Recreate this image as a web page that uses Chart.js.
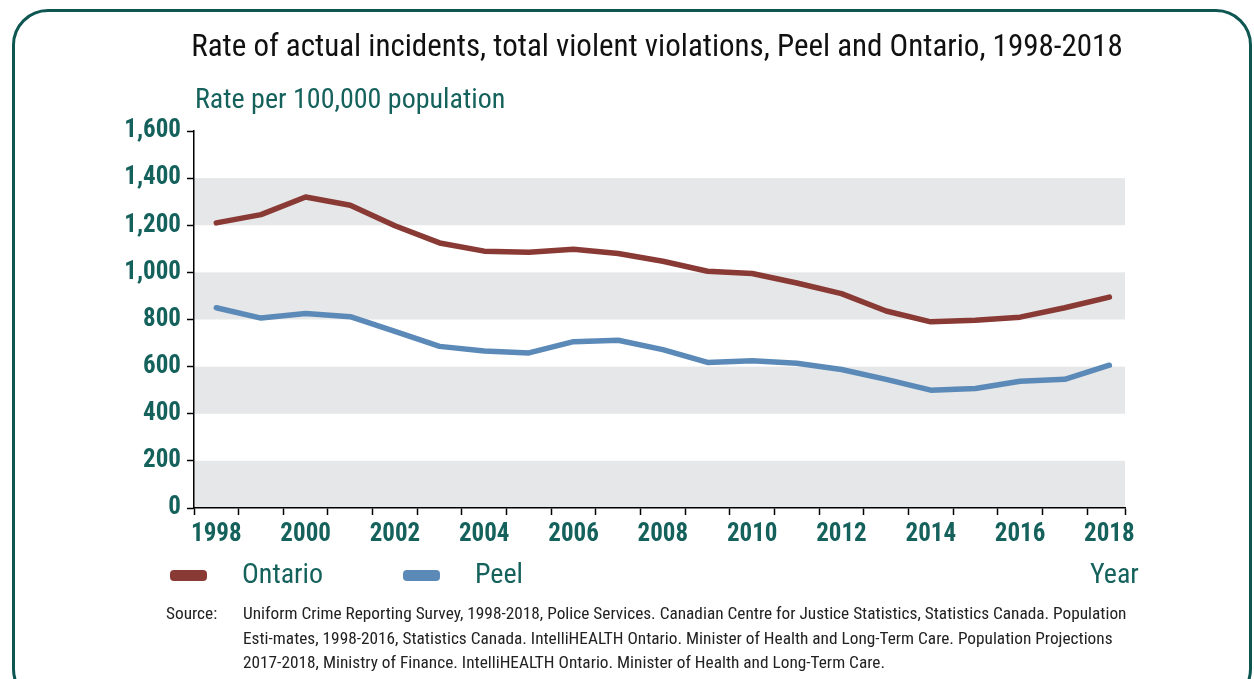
<!DOCTYPE html>
<html lang="en">
<head>
  <meta charset="UTF-8"/>
  <title>Violent violations • Peel and Ontario</title>
  <style>
    body { margin: 0; background: #fff; }
    #wrap { position: relative; width: 1254px; height: 679px; overflow: hidden;
      font-family: 'Roboto Condensed', 'Liberation Sans Narrow', 'DejaVu Sans Condensed', Roboto, sans-serif; }
    #frame { position: absolute; left: 12px; top: 9px; width: 1234px; height: 690px;
      border: 3px solid #0e5652; border-radius: 36px; }
    #chartBox { position: absolute; left: 0; top: 0; width: 1254px; height: 679px; }
    .txt { position: absolute; white-space: nowrap; line-height: 1; }
    #title { left: 0; width: 1314px; text-align: center; top: 30px; font-size: 31px; color: #111; }
    #sub { left: 195px; top: 85px; font-size: 28px; color: #15615c; }
    .sw { position: absolute; width: 37px; height: 11px; border-radius: 4px; top: 570px; }
    .leg { top: 560px; font-size: 28px; color: #15615c; }
    #src { position: absolute; left: 166px; top: 601px; font-size: 17.3px; line-height: 24.5px; color: #222; white-space: nowrap; }
    #src span { position: absolute; left: 0; top: 0; }
    #src div { position: absolute; left: 77px; top: 0; }
  </style>
</head>
<body>
  <div id="wrap">
    <div id="frame"></div>
    <div id="chartBox"><canvas id="rateChart"></canvas></div>
    <div class="txt" id="title">Rate of actual incidents, total violent violations, Peel and Ontario, 1998-2018</div>
    <div class="txt" id="sub">Rate per 100,000 population</div>
    <div class="sw" style="left:170px;background:#8a3a34"></div>
    <div class="txt leg" style="left:242px">Ontario</div>
    <div class="sw" style="left:403px;background:#5b8ab8"></div>
    <div class="txt leg" style="left:475px">Peel</div>
    <div class="txt leg" style="left:1090px">Year</div>
    <div id="src">
      <span>Source:</span>
      <div>Uniform Crime Reporting Survey, 1998-2018, Police Services. Canadian Centre for Justice Statistics, Statistics Canada. Population<br>Esti-mates, 1998-2016, Statistics Canada. IntelliHEALTH Ontario. Minister of Health and Long-Term Care. Population Projections<br>2017-2018, Ministry of Finance. IntelliHEALTH Ontario. Minister of Health and Long-Term Care.</div>
    </div>
  </div>
  <script src="https://cdn.jsdelivr.net/npm/chart.js"></script>
  <script>
    const years = [1998,1999,2000,2001,2002,2003,2004,2005,2006,2007,2008,2009,2010,2011,2012,2013,2014,2015,2016,2017,2018]
    const ontario = [1210,1245,1320,1285,1198,1125,1090,1085,1098,1080,1047,1005,995,955,910,836,790,797,810,850,895]
    const peel = [850,806,825,812,750,686,666,658,706,712,672,618,625,614,588,546,500,507,538,546,606]
    const yTicks = [0,200,400,600,800,1000,1200,1400,1600]

    const teal = '#15615c',
      font = "'Roboto Condensed', 'Liberation Sans Narrow', 'DejaVu Sans Condensed', Roboto, sans-serif",
      xMin = years[0] - 0.5,
      xMax = years[years.length - 1] + 0.35

    // grey bands behind every other 200 step
    const bands = {
      id: 'bands',
      beforeDraw(chart) {
        const { ctx, chartArea: a, scales: { y } } = chart
        ctx.save()
        ctx.fillStyle = '#e6e7e8'
        for (let i = 0; i < yTicks.length - 1; i += 2) {
          const top = y.getPixelForValue(yTicks[i + 1]), bot = y.getPixelForValue(yTicks[i])
          ctx.fillRect(a.left, top, a.right - a.left, bot - top)
        }
        ctx.restore()
      }
    }

    new Chart(document.getElementById('rateChart'), {
      type: 'line',
      data: {
        datasets: [
          { label: 'Ontario', data: years.map((yr, i) => ({ x: yr, y: ontario[i] })),
            borderColor: '#8a3a34', borderWidth: 5.5, pointRadius: 0, borderCapStyle: 'round', borderJoinStyle: 'round' },
          { label: 'Peel', data: years.map((yr, i) => ({ x: yr, y: peel[i] })),
            borderColor: '#5b8ab8', borderWidth: 5.5, pointRadius: 0, borderCapStyle: 'round', borderJoinStyle: 'round' }
        ]
      },
      options: {
        responsive: true,
        maintainAspectRatio: false,
        animation: false,
        layout: { padding: { left: 114, right: 129, top: 131, bottom: 126 } },
        plugins: { legend: { display: false }, tooltip: { enabled: false } },
        scales: {
          x: {
            type: 'linear', min: xMin, max: xMax,
            afterBuildTicks(s) {
              const vals = years.concat(years.map(v => v - 0.5), [xMax]).sort((a, b) => a - b)
              s.ticks = vals.map(v => ({ value: v }))
            },
            afterFit(s) { s.height = 45 },
            grid: {
              drawOnChartArea: false, tickLength: 7, tickWidth: 1.5,
              tickColor: c => Number.isInteger(c.tick.value) ? 'rgba(0,0,0,0)' : '#000'
            },
            border: { color: '#000', width: 1.5 },
            ticks: {
              autoSkip: false, maxRotation: 0, padding: 5, color: teal,
              font: { family: font, size: 25, weight: 'bold' },
              callback: v => (Number.isInteger(v) && v % 2 === 0) ? String(v) : ''
            }
          },
          y: {
            min: 0, max: 1600,
            afterBuildTicks(s) { s.ticks = yTicks.map(v => ({ value: v })) },
            afterFit(s) { s.width = 80 },
            grid: { drawOnChartArea: false, tickLength: 7, tickWidth: 1.5, tickColor: '#000' },
            border: { color: '#000', width: 1.5 },
            ticks: {
              padding: 6, color: teal,
              font: { family: font, size: 25, weight: 'bold' },
              callback: v => v.toLocaleString('en-US')
            }
          }
        }
      },
      plugins: [bands]
    })
  </script>
</body>
</html>
